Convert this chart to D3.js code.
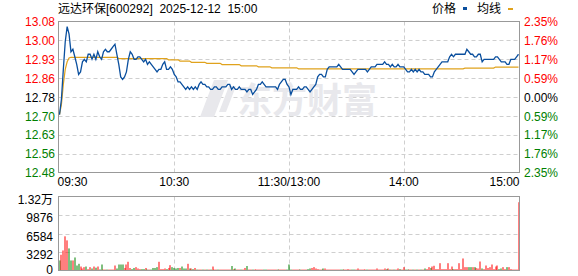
<!DOCTYPE html>
<html>
<head>
<meta charset="utf-8">
<script src="https://cdn.jsdelivr.net/npm/d3@7"></script>
<style>
  body { margin: 0; background: #fff; }
  text { font-family: "Liberation Sans", Arial, "Noto Sans CJK SC", sans-serif; font-size: 12px; }
</style>
</head>
<body>
<script>
// stock and time axis
var title = "远达环保[600292]  2025-12-12  15:00";
var preClose = 12.78;
var timeTicks = [0, 60, 120, 180, 240];
var timeLabels = ["09:30", "10:30", "11:30/13:00", "14:00", "15:00"];

// percent ticks, top to bottom (sign: + above pre close)
var pctTicks = [2.35, 1.76, 1.17, 0.59, 0, -0.59, -1.17, -1.76, -2.35];
var pctLabels = ["2.35%", "1.76%", "1.17%", "0.59%", "0.00%", "0.59%", "1.17%", "1.76%", "2.35%"];

// volume ticks
var volTicks = [0, 3292, 6584, 9876, 13168];
var volLabels = ["0", "3292", "6584", "9876", "1.32万"];

// minute price, 09:30 .. 15:00 (241 points)
var price = [
  12.71, 12.77, 12.89, 13.00, 13.06, 13.03, 12.96, 12.97, 12.94, 12.91,
  12.87, 12.88, 12.92, 12.93, 12.92, 12.95, 12.95, 12.93, 12.95, 12.93,
  12.96, 12.94, 12.93, 12.96, 12.97, 12.96, 12.96, 12.97, 12.98, 12.99,
  12.95, 12.91, 12.86, 12.85, 12.86, 12.88, 12.93, 12.96, 12.95, 12.93,
  12.93, 12.94, 12.94, 12.93, 12.92, 12.93, 12.91, 12.92, 12.91, 12.90,
  12.89, 12.88, 12.89, 12.89, 12.91, 12.92, 12.89, 12.89, 12.90, 12.89,
  12.87, 12.86, 12.84, 12.84, 12.83, 12.82, 12.81, 12.82, 12.81, 12.82,
  12.81, 12.82, 12.81, 12.83, 12.84, 12.83, 12.83, 12.82, 12.82, 12.81,
  12.81, 12.82, 12.82, 12.81, 12.81, 12.82, 12.82, 12.82, 12.83, 12.83,
  12.81, 12.82, 12.81, 12.81, 12.82, 12.81, 12.81, 12.81, 12.80, 12.81,
  12.81, 12.79, 12.80, 12.81, 12.83, 12.83, 12.84, 12.83, 12.82, 12.82,
  12.82, 12.82, 12.82, 12.82, 12.81, 12.83, 12.84, 12.85, 12.85, 12.83,
  12.82, 12.79, 12.81, 12.81, 12.81, 12.82, 12.81, 12.81, 12.82, 12.82,
  12.81, 12.80, 12.81, 12.82, 12.83, 12.86, 12.87, 12.87, 12.86, 12.86,
  12.89, 12.90, 12.90, 12.90, 12.90, 12.90, 12.91, 12.90, 12.89, 12.89,
  12.89, 12.89, 12.89, 12.88, 12.87, 12.88, 12.89, 12.89, 12.89, 12.89,
  12.89, 12.88, 12.89, 12.90, 12.90, 12.90, 12.91, 12.91, 12.91, 12.91,
  12.92, 12.91, 12.91, 12.90, 12.91, 12.90, 12.90, 12.91, 12.90, 12.90,
  12.90, 12.89, 12.88, 12.88, 12.89, 12.88, 12.89, 12.88, 12.89, 12.88,
  12.88, 12.87, 12.87, 12.87, 12.86, 12.86, 12.88, 12.89, 12.90, 12.91,
  12.92, 12.92, 12.92, 12.92, 12.94, 12.95, 12.94, 12.95, 12.95, 12.95,
  12.95, 12.95, 12.95, 12.97, 12.96, 12.95, 12.95, 12.94, 12.94, 12.95,
  12.95, 12.92, 12.93, 12.93, 12.93, 12.93, 12.93, 12.93, 12.94, 12.94,
  12.93, 12.92, 12.92, 12.92, 12.91, 12.91, 12.93, 12.93, 12.93, 12.94,
  12.95
];

// minute average price
var avg = [
  12.710, 12.750, 12.830, 12.890, 12.920, 12.935, 12.938, 12.938, 12.938, 12.938,
  12.938, 12.938, 12.938, 12.938, 12.938, 12.938, 12.938, 12.938, 12.938, 12.938,
  12.938, 12.938, 12.938, 12.938, 12.938, 12.938, 12.938, 12.938, 12.938, 12.938,
  12.938, 12.933, 12.933, 12.933, 12.933, 12.933, 12.933, 12.933, 12.933, 12.933,
  12.933, 12.933, 12.933, 12.933, 12.933, 12.933, 12.933, 12.933, 12.933, 12.933,
  12.933, 12.933, 12.933, 12.933, 12.933, 12.933, 12.933, 12.928, 12.928, 12.928,
  12.928, 12.928, 12.928, 12.923, 12.923, 12.923, 12.923, 12.923, 12.923, 12.918,
  12.918, 12.918, 12.918, 12.918, 12.918, 12.918, 12.918, 12.914, 12.914, 12.914,
  12.914, 12.914, 12.914, 12.914, 12.914, 12.909, 12.909, 12.909, 12.909, 12.909,
  12.909, 12.909, 12.909, 12.909, 12.909, 12.904, 12.904, 12.904, 12.904, 12.904,
  12.904, 12.904, 12.904, 12.904, 12.900, 12.900, 12.900, 12.900, 12.900, 12.900,
  12.900, 12.896, 12.896, 12.896, 12.896, 12.896, 12.896, 12.896, 12.896, 12.896,
  12.896, 12.896, 12.896, 12.896, 12.896, 12.892, 12.892, 12.892, 12.892, 12.892,
  12.892, 12.892, 12.892, 12.892, 12.892, 12.892, 12.892, 12.892, 12.892, 12.892,
  12.892, 12.892, 12.892, 12.892, 12.892, 12.892, 12.892, 12.892, 12.892, 12.892,
  12.892, 12.892, 12.892, 12.892, 12.892, 12.892, 12.892, 12.892, 12.892, 12.892,
  12.892, 12.892, 12.892, 12.892, 12.892, 12.892, 12.892, 12.892, 12.892, 12.892,
  12.892, 12.892, 12.892, 12.892, 12.892, 12.892, 12.892, 12.892, 12.892, 12.892,
  12.892, 12.892, 12.892, 12.892, 12.892, 12.892, 12.892, 12.892, 12.892, 12.892,
  12.892, 12.892, 12.892, 12.892, 12.892, 12.892, 12.892, 12.892, 12.892, 12.892,
  12.892, 12.892, 12.892, 12.892, 12.892, 12.892, 12.892, 12.892, 12.892, 12.892,
  12.892, 12.892, 12.895, 12.895, 12.895, 12.895, 12.895, 12.895, 12.895, 12.895,
  12.895, 12.895, 12.895, 12.895, 12.895, 12.895, 12.895, 12.895, 12.899, 12.899,
  12.899, 12.899, 12.899, 12.899, 12.899, 12.899, 12.899, 12.899, 12.899, 12.899,
  12.899
];

// minute volume (lots)
var volume = [
  1790, 2800, 3570, 6080, 5360, 3930, 1790, 1790, 2320, 890,
  1190, 710, 360, 600, 710, 240, 600, 360, 710, 500,
  710, 200, 1070, 180, 180, 180, 180, 180, 180, 890,
  360, 1070, 1070, 1070, 450, 1070, 1550, 450, 250, 450,
  600, 360, 250, 250, 250, 450, 180, 180, 180, 450,
  450, 600, 1550, 250, 250, 360, 250, 450, 950, 600,
  450, 360, 450, 450, 710, 360, 360, 1190, 360, 360,
  250, 450, 180, 180, 180, 180, 180, 180, 180, 180,
  710, 180, 180, 180, 180, 180, 180, 180, 180, 180,
  800, 250, 360, 180, 180, 180, 180, 450, 800, 180,
  180, 180, 180, 180, 180, 180, 180, 180, 180, 180,
  180, 180, 180, 180, 180, 180, 180, 180, 180, 180,
  1070, 180, 180, 180, 180, 180, 180, 180, 180, 180,
  250, 360, 450, 600, 360, 250, 180, 180, 360, 360,
  180, 180, 180, 180, 180, 180, 180, 180, 180, 180,
  180, 250, 180, 180, 180, 180, 360, 180, 180, 180,
  180, 180, 180, 180, 180, 180, 360, 180, 180, 180,
  360, 250, 360, 180, 180, 180, 180, 360, 250, 180,
  600, 180, 180, 180, 180, 180, 180, 180, 180, 180,
  180, 360, 250, 600, 450, 710, 840, 250, 250, 1300,
  250, 250, 250, 1300, 250, 710, 250, 250, 250, 1300,
  250, 2140, 600, 600, 600, 600, 600, 600, 450, 360,
  1600, 360, 250, 890, 450, 600, 1070, 250, 710, 890,
  250, 360, 600, 250, 600, 600, 250, 180, 180, 180,
  12150
];

var red = "#ff0000", green = "#008000",
    blue = "#0a4f9e", orange = "#e0a21c";

// plot frames
var left = 58.5, right = 519.5,
    pTop = 21.5, pBottom = 172.5,
    vTop = 196.5, vBottom = 270.5;

var svg = d3.select("body").append("svg")
    .attr("width", 578)
    .attr("height", 276);

// scales
var x = d3.scaleLinear().domain([0, 240]).range([59.5, 518.5]);
var y = d3.scaleLinear()
    .domain([preClose * (1 - 0.0235), preClose * (1 + 0.0235)])
    .range([pBottom, pTop]);
var yv = d3.scaleLinear().domain([0, 13168]).range([vBottom, vTop]);

function tickPrice(p) { return preClose * (1 + p / 100); }
function tickColor(p) { return p > 0 ? red : (p < 0 ? green : "#000"); }

// title and legend
svg.append("text")
    .attr("x", 58)
    .attr("y", 13)
    .style("white-space", "pre")
    .text(title);

svg.append("text").attr("x", 432).attr("y", 13).text("价格");
svg.append("rect").attr("x", 463).attr("y", 7).attr("width", 4).attr("height", 3).attr("fill", blue);
svg.append("text").attr("x", 477).attr("y", 13).text("均线");
svg.append("rect").attr("x", 508).attr("y", 8).attr("width", 5).attr("height", 2).attr("fill", orange);

// horizontal grid, price
svg.append("g")
  .selectAll("line")
  .data(pctTicks.slice(1, -1))
  .enter().append("line")
    .attr("x1", left).attr("x2", right)
    .attr("y1", function(d) { return Math.round(y(tickPrice(d))) + 0.5; })
    .attr("y2", function(d) { return Math.round(y(tickPrice(d))) + 0.5; })
    .attr("stroke", "#cfcfcf")
    .attr("stroke-dasharray", "4,3");

// horizontal grid, volume
svg.append("g")
  .selectAll("line")
  .data(volTicks.slice(1, -1))
  .enter().append("line")
    .attr("x1", left).attr("x2", right)
    .attr("y1", function(d) { return Math.round(yv(d)) + 0.5; })
    .attr("y2", function(d) { return Math.round(yv(d)) + 0.5; })
    .attr("stroke", "#cfcfcf")
    .attr("stroke-dasharray", "4,3");

// vertical grid in both panels
var inner = timeTicks.slice(1, -1);
[[pTop, pBottom], [vTop, vBottom]].forEach(function(r) {
  svg.append("g")
    .selectAll("line")
    .data(inner)
    .enter().append("line")
      .attr("x1", function(d) { return Math.round(x(d)) + 0.5; })
      .attr("x2", function(d) { return Math.round(x(d)) + 0.5; })
      .attr("y1", r[0]).attr("y2", r[1])
      .attr("stroke", "#cfcfcf")
      .attr("stroke-dasharray", "4,3");
});

// watermark
var wm = svg.append("g").attr("fill", "#e8e8ec");
wm.append("path")
    .attr("d", "M214,80 L228,80 L214,117 L200,117 Z M229,86 L236,86 L226,112 L219,112 Z");
wm.append("text")
    .attr("x", 237)
    .attr("y", 113)
    .style("font-family", "'Noto Sans CJK SC', sans-serif")
    .style("font-size", "35px")
    .style("font-weight", "bold")
    .text("东方财富");

// average line
svg.append("path")
    .datum(avg)
    .attr("fill", "none")
    .attr("stroke", orange)
    .attr("stroke-width", 1.2)
    .attr("d", d3.line()
        .x(function(d, i) { return x(i); })
        .y(function(d) { return y(d); }));

// price line
svg.append("path")
    .datum(price)
    .attr("fill", "none")
    .attr("stroke", blue)
    .attr("stroke-width", 1.3)
    .attr("d", d3.line()
        .x(function(d, i) { return x(i); })
        .y(function(d) { return y(d); }));

// volume bars, coloured by minute change
svg.append("g")
  .selectAll("rect")
  .data(volume)
  .enter().append("rect")
    .attr("x", function(d, i) { return Math.round(x(i)) - 0.5; })
    .attr("width", 1)
    .attr("y", function(d) { return yv(d); })
    .attr("height", function(d) { return vBottom - 0.5 - yv(d); })
    .attr("fill", function(d, i) {
      var prev = i === 0 ? preClose : price[i - 1];
      return price[i] >= prev ? red : green;
    });

// frames
[[pTop, pBottom], [vTop, vBottom]].forEach(function(r) {
  svg.append("rect")
      .attr("x", left)
      .attr("y", r[0])
      .attr("width", right - left)
      .attr("height", r[1] - r[0])
      .attr("fill", "none")
      .attr("stroke", "#999");
});

// left price labels
svg.append("g")
  .selectAll("text")
  .data(pctTicks)
  .enter().append("text")
    .attr("x", 55)
    .attr("y", function(d) { return y(tickPrice(d)); })
    .attr("dy", "0.38em")
    .style("text-anchor", "end")
    .attr("fill", tickColor)
    .text(function(d) { return tickPrice(d).toFixed(2); });

// right percent labels
svg.append("g")
  .selectAll("text")
  .data(pctTicks)
  .enter().append("text")
    .attr("x", 524)
    .attr("y", function(d) { return y(tickPrice(d)); })
    .attr("dy", "0.38em")
    .attr("fill", tickColor)
    .text(function(d, i) { return pctLabels[i]; });

// time labels
svg.append("g")
  .selectAll("text")
  .data(timeTicks)
  .enter().append("text")
    .attr("x", function(d, i) { return i === 0 ? left - 1 : (i === timeTicks.length - 1 ? right : x(d)); })
    .attr("y", 186)
    .style("text-anchor", function(d, i) { return i === 0 ? "start" : (i === timeTicks.length - 1 ? "end" : "middle"); })
    .text(function(d, i) { return timeLabels[i]; });

// volume labels
svg.append("g")
  .selectAll("text")
  .data(volTicks)
  .enter().append("text")
    .attr("x", 53)
    .attr("y", function(d, i) { return i === 0 ? yv(d) - 1.5 : yv(d) + 2.5; })
    .attr("dy", "0.38em")
    .style("text-anchor", "end")
    .text(function(d, i) { return volLabels[i]; });
</script>
</body>
</html>
